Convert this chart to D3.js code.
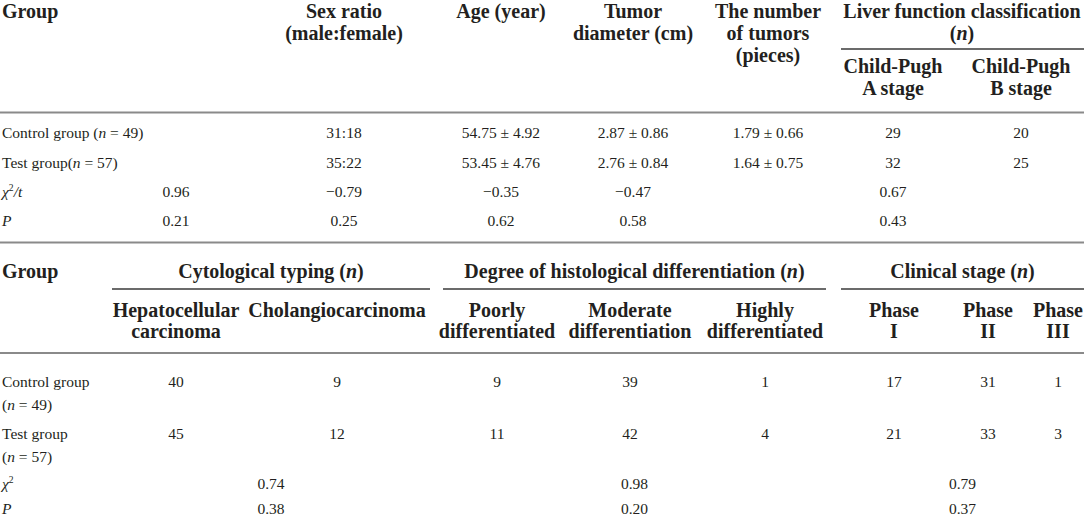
<!DOCTYPE html>
<html>
<head>
<meta charset="utf-8">
<script src="https://cdn.jsdelivr.net/npm/d3@7"></script>
<style>
  body { margin: 0; background: #fff; }
</style>
</head>
<body>
<div id="table-canvas"></div>
<script>
// ---- data (top table) ----
// *x* = italic, ^x^ = superscript
const topKeys = ["stat", "sex", "age", "tumor", "number", "cpA", "cpB"];
const topHeaders = [
    [],
    ["Sex ratio", "(male:female)"],
    ["Age (year)"],
    ["Tumor", "diameter (cm)"],
    ["The number", "of tumors", "(pieces)"]
];
const liverHeader = ["Liver function classification", "(*n*)"];
const liverSub = [["Child-Pugh", "A stage"], ["Child-Pugh", "B stage"]];
const topRowLabels = ["Control group (*n* = 49)", "Test group(*n* = 57)", "*χ*^2^*/t*", "*P*"];
const controlTop = ["", "31:18", "54.75 ± 4.92", "2.87 ± 0.86", "1.79 ± 0.66", "29", "20"];
const testTop = ["", "35:22", "53.45 ± 4.76", "2.76 ± 0.84", "1.64 ± 0.75", "32", "25"];
const chiTop = ["0.96", "−0.79", "−0.35", "−0.47", "", "0.67", ""];
const pTop = ["0.21", "0.25", "0.62", "0.58", "", "0.43", ""];

// ---- data (bottom table) ----
const botKeys = ["hep", "chol", "poor", "mod", "high", "ph1", "ph2", "ph3"];
const botGroups = ["Cytological typing (*n*)", "Degree of histological differentiation (*n*)", "Clinical stage (*n*)"];
const botSub = [
    ["Hepatocellular", "carcinoma"], ["Cholangiocarcinoma"],
    ["Poorly", "differentiated"], ["Moderate", "differentiation"], ["Highly", "differentiated"],
    ["Phase", "I"], ["Phase", "II"], ["Phase", "III"]
];
const botRowLabels = [["Control group", "(*n* = 49)"], ["Test group", "(*n* = 57)"], ["*χ*^2^"], ["*P*"]];
const controlBot = ["40", "9", "9", "39", "1", "17", "31", "1"];
const testBot = ["45", "12", "11", "42", "4", "21", "33", "3"];
const chiBot = ["0.74", "0.98", "0.79"];
const pBot = ["0.38", "0.20", "0.37"];

// ---- layout ----
const W = 1084, H = 517;
const ink = "#231f20";
const serif = "'Liberation Serif', 'Times New Roman', serif";
const headSize = 20, bodySize = 15.5;

const svg = d3.select("#table-canvas")
    .append("svg")
    .attr("width", W)
    .attr("height", H)
    .style("background", "#fff");

// writes a label with *italic* and ^super^ pieces into a text element
function rich(textSel, str, size) {
    let parts = str.split(/(\*[^*]+\*|\^[^^]+\^)/).filter(s => s.length);
    let raised = false;
    parts.forEach(p => {
        let t = textSel.append("tspan");
        if (p.startsWith("^")) {
            t.text(p.slice(1, -1))
                .attr("font-size", size * 0.62)
                .attr("dy", -size * 0.4);
            raised = true;
            return;
        }
        if (raised) { t.attr("dy", size * 0.4); raised = false; }
        if (p.startsWith("*")) {
            t.text(p.slice(1, -1)).attr("font-style", "italic");
        } else {
            t.text(p);
        }
    });
}

function label(x, y, str, opts) {
    let size = opts.size;
    let t = svg.append("text")
        .attr("x", x)
        .attr("y", y)
        .attr("text-anchor", opts.anchor || "middle")
        .attr("font-family", serif)
        .attr("font-size", size)
        .attr("font-weight", opts.bold ? "bold" : "normal")
        .attr("fill", ink)
        .attr("xml:space", "preserve");
    rich(t, str, size);
    return t;
}

function rule(x1, x2, y, color, width) {
    svg.append("line")
        .attr("x1", x1).attr("x2", x2)
        .attr("y1", y).attr("y2", y)
        .attr("stroke", color)
        .attr("stroke-width", width);
}

// ================= top table =================
let xTop = d3.scaleOrdinal()
    .domain(topKeys)
    .range([176, 344, 501, 633, 768, 893, 1021]);
let yTop = d3.scaleOrdinal()
    .domain(d3.range(4))
    .range([138, 168, 197, 226]);
let headLine = d3.scaleLinear().domain([0, 1]).range([18, 40]);

label(2, headLine(0), "Group", {size: headSize, bold: true, anchor: "start"});
topHeaders.forEach((lines, i) => {
    lines.forEach((ln, j) => {
        label(xTop(topKeys[i]), headLine(j), ln, {size: headSize, bold: true});
    });
});
liverHeader.forEach((ln, j) => label(962, headLine(j), ln, {size: headSize, bold: true}));
rule(841, W, 49, "#3a3a3a", 1.5);
liverSub.forEach((lines, i) => {
    lines.forEach((ln, j) => {
        label(xTop(i == 0 ? "cpA" : "cpB"), 73 + j * 22, ln, {size: headSize, bold: true});
    });
});
rule(0, W, 112.5, "#8a8a8a", 2);

topRowLabels.forEach((lab, i) => label(2, yTop(i), lab, {size: bodySize, anchor: "start"}));
[controlTop, testTop, chiTop, pTop].forEach((row, i) => {
    row.forEach((v, j) => {
        if (v) label(xTop(topKeys[j]), yTop(i), v, {size: bodySize});
    });
});
rule(0, W, 242.5, "#8a8a8a", 2);

// ================= bottom table =================
let xBot = d3.scaleOrdinal()
    .domain(botKeys)
    .range([176, 337, 497, 630, 765, 894, 988, 1058]);
let groupSpan = [[112, 430], [443, 826], [841, W]];
let xGroup = d3.scaleOrdinal()
    .domain(d3.range(3))
    .range(groupSpan.map(s => (s[0] + s[1]) / 2));

label(2, 278, "Group", {size: headSize, bold: true, anchor: "start"});
botGroups.forEach((g, i) => {
    label(xGroup(i), 278, g, {size: headSize, bold: true});
    rule(groupSpan[i][0], groupSpan[i][1], 289, "#3a3a3a", 1.5);
});
botSub.forEach((lines, i) => {
    lines.forEach((ln, j) => {
        label(xBot(botKeys[i]), 317 + j * 21, ln, {size: headSize, bold: true});
    });
});
rule(0, W, 353, "#8a8a8a", 2);

let yBot = d3.scaleOrdinal()
    .domain(d3.range(4))
    .range([387, 439, 489, 513.5]);
botRowLabels.forEach((lines, i) => {
    lines.forEach((ln, j) => {
        label(2, yBot(i) + j * 23, ln, {size: bodySize, anchor: "start"});
    });
});
[controlBot, testBot].forEach((row, i) => {
    row.forEach((v, j) => label(xBot(botKeys[j]), yBot(i), v, {size: bodySize}));
});
[chiBot, pBot].forEach((row, i) => {
    row.forEach((v, j) => label(xGroup(j), yBot(i + 2), v, {size: bodySize}));
});
</script>
</body>
</html>
